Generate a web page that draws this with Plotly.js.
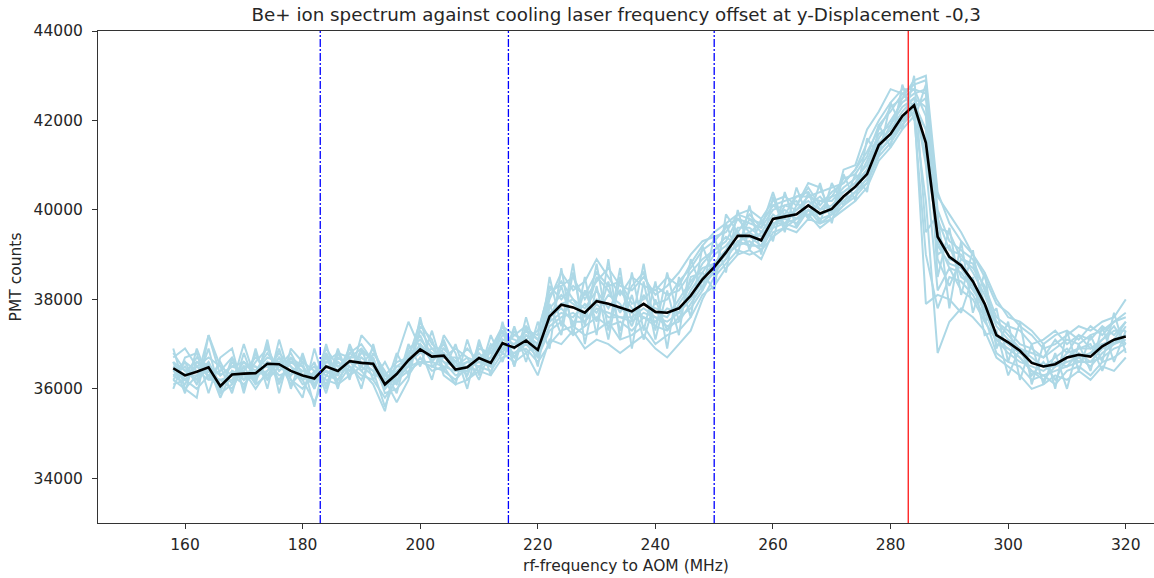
<!DOCTYPE html>
<html>
<head>
<meta charset="utf-8">
<script src="https://cdn.plot.ly/plotly-3.0.1.min.js"></script>
<style>html,body{margin:0;padding:0;background:#fff;}#chart{width:1154px;height:578px;}</style>
</head>
<body>
<div id="chart"></div>
<script>
// rf-frequency (MHz)
const freqs = [158,160,162,164,166,168,170,172,174,176,178,180,182,184,186,188,190,192,194,196,198,200,202,204,206,208,210,212,214,216,218,220,222,224,226,228,230,232,234,236,238,240,242,244,246,248,250,252,254,256,258,260,262,264,266,268,270,272,274,276,278,280,282,284,286,288,290,292,294,296,298,300,302,304,306,308,310,312,314,316,318,320];

// mean spectrum (black)
const meanCounts = [36460,36300,36380,36480,36060,36320,36340,36350,36560,36550,36400,36300,36230,36500,36400,36620,36580,36560,36100,36330,36640,36880,36720,36740,36430,36480,36690,36580,37020,36920,37080,36870,37620,37880,37820,37700,37960,37900,37820,37730,37900,37720,37700,37800,38080,38450,38720,39050,39420,39420,39320,39800,39850,39900,40100,39920,40020,40300,40520,40800,41450,41700,42100,42340,41500,39400,38950,38760,38400,37900,37200,37040,36850,36580,36500,36550,36700,36760,36720,36950,37100,37170];

// individual scans (light blue)
const scanA = [36700,36900,36500,36300,36400,36700,36200,36600,36900,36400,36700,36500,36000,36600,36800,36300,36500,36900,36300,36100,36800,37200,36600,36900,36600,36300,36900,36800,37300,36700,37200,37000,38100,38400,38000,37600,38500,38200,37700,38300,38600,37900,38000,38400,38700,39100,39300,39600,39800,39500,39700,40100,39900,40300,40400,40000,40300,40700,40800,41200,41900,42200,42600,42800,42900,40000,39300,39100,38900,38200,37500,37300,37000,36900,36700,36900,37100,37000,37200,37300,37500,37600];
const scanB = [36200,36000,36300,36600,35900,36100,36500,36100,36300,36700,36200,36000,36400,36200,36100,36500,36300,36200,35800,36200,36400,36600,36500,36400,36200,36500,36400,36300,36700,36800,36900,36600,37000,37300,37400,37200,37300,37500,37100,37200,37400,37000,37200,37300,37600,38100,38300,38700,39000,39100,38900,39500,39600,39500,39800,39700,39800,40000,40200,40500,41100,41400,41800,42100,39000,37800,38500,38400,38100,37600,36800,36600,36500,36200,36300,36100,36400,36500,36300,36600,36700,36900];
const scanC = [36600,36400,36200,37200,36300,36500,36400,36700,36500,36200,36600,36400,36300,36900,36500,36700,36900,36600,36200,36500,36700,37500,37000,36800,36500,36700,36600,36500,37100,37000,37300,37200,38300,38000,38300,38100,38600,38300,38400,37900,38000,38300,38100,38200,38600,38900,39100,39300,39800,39700,39600,40000,40100,40000,40300,40200,40200,40500,40700,41000,41600,42000,42400,42600,42700,39600,39500,38900,38700,38300,37600,37400,37300,37000,37100,37300,37000,37200,37100,37400,37200,37500];
const scanD = [36300,36100,36600,36400,36100,36200,36600,36300,36400,36800,36500,36100,36200,36400,36300,36800,36600,36400,35600,36300,36600,36800,36900,36600,36300,36400,36800,36500,37000,36700,37100,36800,37400,37600,37700,37500,37800,37700,37600,37500,37700,37600,37400,37500,37900,38300,38600,38900,39300,39400,39200,39700,39800,39700,40000,39800,39900,40200,40400,40700,41300,41600,42000,42400,41800,39200,38800,38700,38300,37800,37000,36900,36700,36400,36200,36500,36600,36700,36500,36800,37000,37100];
const scanE = [36500,36300,36700,36500,35800,36400,36200,36400,36700,36600,36300,36700,36100,36500,36600,36400,36700,36500,36000,36400,36500,37000,36600,37100,36400,36600,36500,36700,37200,37100,37000,36900,38000,38600,38200,38400,38900,38500,38100,38500,38300,38200,38500,38300,38800,39200,39500,39700,39900,40000,39800,40200,40300,40100,40500,40100,40400,40600,40900,41300,41800,42300,42500,42900,43000,40400,39700,39300,39000,38500,37900,37700,37400,37200,36900,37000,37200,37400,37300,37500,37600,38000];
const scanF = [36100,36200,36000,36300,36000,36600,36300,36200,36600,36300,36400,36200,35700,36300,36200,36600,36400,36700,35900,36000,36300,36700,36400,36500,36100,36200,36500,36400,36800,36600,36800,36300,37100,37000,37300,36900,37100,37000,36800,37000,37200,36900,36700,37000,37300,38000,38500,38800,39100,39000,39100,39400,39600,39800,39900,39600,39800,40100,40300,40600,41200,41500,41900,42200,40200,36800,37500,37800,37600,37300,36700,36500,36300,36000,36100,36300,36200,36400,36200,36500,36400,36700];
const scanG = [36400,36600,36400,36200,36200,36000,36500,36500,36200,36500,36800,36300,36500,36100,36700,36500,36200,36800,36400,35900,36900,37100,36800,36700,36700,36300,37000,36600,36900,37200,37400,37100,37700,37900,38000,37800,38200,37800,38200,37800,37600,37500,37800,37700,38200,38600,39000,39200,39500,39200,39500,39900,39700,40000,40200,40000,40100,40400,40600,40900,41500,41800,42200,42500,42300,39000,39200,38500,38300,37700,37200,37000,36800,36600,36500,36700,36900,36600,36800,37100,37300,37300];
const scanH = [36600,36200,36500,36700,36500,36300,36100,36400,36500,36600,36100,36400,36300,36700,36400,36900,36500,36300,36300,36600,36700,36900,36700,37000,36500,36600,36700,36900,37400,36900,37200,37000,37500,37700,37600,37900,37700,38100,37900,37400,38100,37700,37600,38000,38400,38700,38800,39100,39600,39600,39400,39800,40000,39800,40100,40300,40000,40300,40500,40900,41400,41900,42300,42500,41000,38200,38700,38200,38000,37500,37100,36800,36600,36500,36400,36600,36500,36800,36600,36900,37000,37400];
const scanI = [36300,36500,36100,36600,36100,36200,36400,36000,36400,36700,36500,36300,36100,36400,36200,36600,36600,36400,36100,36200,36500,36600,36600,36500,36400,36500,36600,36500,36900,36800,37000,36700,37300,37500,37200,37400,37600,37400,37500,37300,37600,37400,37300,37600,37800,38200,38700,39000,39200,39300,39100,39600,39700,39600,40000,39700,39900,40100,40400,40600,41300,41600,41900,42300,42500,39800,39100,39000,38600,38100,37400,37100,36900,36700,36500,36500,36800,36900,36900,37000,37100,37200];
const scanJ = [36500,36300,36300,36400,36000,36400,36300,36300,36600,36500,36400,36200,36300,36600,36500,36700,36700,36500,36200,36400,36600,37000,36700,36800,36400,36400,36700,36600,37100,37000,37100,36900,37800,38100,37900,37700,38000,37900,37800,37700,37900,37800,37700,37800,38100,38500,38800,39100,39400,39500,39300,39800,39900,39900,40100,39900,40000,40300,40500,40800,41400,41700,42100,42400,41200,39500,38900,38800,38400,37900,37200,37000,36800,36600,36500,36500,36700,36700,36800,37000,37000,37200];
const scanK = [36800,36400,36600,36500,36300,36500,36600,36400,36800,36400,36600,36500,36200,36800,36300,36800,37000,36600,36100,36500,36500,37300,36900,36900,36600,36900,36600,36700,37400,37200,37100,37300,38200,38300,38500,38000,38400,38700,38300,38200,38500,38100,38300,38600,39000,39300,39400,39500,39900,39800,39700,40100,40200,40300,40300,40400,40500,40600,40900,41500,42000,42400,42700,42700,42600,40300,39900,39500,39000,38600,38000,37600,37500,37300,37000,37200,37300,37100,37400,37200,37500,37700];
const scanL = [36400,36200,36500,36300,36200,36300,36500,36500,36300,36600,36300,36600,36400,36300,36600,36400,36800,36700,36000,36300,36800,36800,36800,36600,36500,36500,36700,36800,37000,36900,37300,37100,37600,37800,37500,37500,37900,37600,37600,37600,37800,37600,37500,37700,38000,38400,38600,38900,39300,39200,39200,39700,39700,39800,40000,39900,40000,40200,40400,40700,41300,41600,42000,42300,41800,39300,38700,38600,38200,37800,37100,36900,36700,36400,36300,36400,36500,36600,36600,36700,36900,37000];
const scanM = [36900,36000,35800,37200,36500,35900,36800,36100,37100,35900,36900,36600,35600,36800,36000,37000,36400,36100,35500,36700,37500,36900,36200,37200,36800,36000,37100,36300,37500,36500,37400,36500,37900,37200,38600,37400,38800,37300,38700,36900,38400,37100,38200,37200,38900,38200,39400,38600,40000,39100,39800,39300,40400,39600,40400,39700,40600,40100,40800,40400,41900,41400,42800,42000,42800,38500,39600,38100,39100,37500,37800,36600,37500,36100,37000,36000,37300,36400,37200,36600,37700,36800];
const scanN = [36000,36700,36800,35900,36700,36900,35900,36900,36000,37100,36200,35800,36900,36000,36900,36200,37200,36900,36200,35700,36200,37400,37100,36300,36100,37100,36300,37200,36600,37400,36600,37500,36900,38700,37200,38500,37200,38900,37100,38600,37300,38400,36900,38500,37600,39200,38500,39700,39000,40100,39000,40300,39500,40500,39800,40600,39700,40800,40200,41600,41200,42400,41800,43000,39500,39900,37800,39300,37700,38600,36900,37500,36200,37000,36100,36800,36000,37000,36400,37400,36600,37300];
const scanO = [36200,36600,36100,36900,35900,36700,36000,36800,36200,36900,36000,36800,36000,37000,36100,36300,36900,36200,36600,36100,37000,36500,37300,36400,37000,36200,36400,37000,36800,37300,36800,37000,37500,38300,37400,38200,37500,38400,37300,38100,37100,38000,37300,37900,38300,38800,39100,39400,39200,39800,39500,39600,40100,40200,39800,40200,40300,40400,40600,41100,41700,41900,42500,42700,42100,38900,38300,38900,38800,37900,37500,37200,36900,36800,36700,37100,36800,37200,36900,37100,37400,37000];
const scanP = [36600,35900,36900,36200,36600,36100,37000,36200,37000,36100,36700,36200,36600,35900,36800,36700,36000,37000,36000,36800,36300,37600,36500,36700,36900,36700,36200,36900,37300,36500,37600,36700,38500,37400,38800,37000,38300,37100,38500,37500,38800,37300,38600,37500,38500,38600,38200,39900,39500,39900,39600,40400,39600,40100,40600,40500,39900,40900,41000,41800,42200,42700,42600,42300,37900,38100,38000,37700,38500,37200,37300,36300,36900,36300,36600,36200,36700,36900,37000,36400,37100,37500];
const scans = [scanA,scanB,scanC,scanD,scanE,scanF,scanG,scanH,scanI,scanJ,scanK,scanL,scanM,scanN,scanO,scanP];

// reference frequencies
const blueMarkers = [183, 215, 250];
const redMarkers = [283];

const xTicks = [160,180,200,220,240,260,280,300,320];
const yTicks = [34000,36000,38000,40000,42000,44000];

const traces = scans.map(s => ({
  x: freqs, y: s, type: 'scatter', mode: 'lines',
  line: {color: '#add8e6', width: 2}, hoverinfo: 'skip', showlegend: false
}));
traces.push({
  x: freqs, y: meanCounts, type: 'scatter', mode: 'lines',
  line: {color: '#000000', width: 2.6}, showlegend: false
});

const shapes = [];
blueMarkers.forEach(f => shapes.push({type: 'line', xref: 'x', yref: 'paper', x0: f, x1: f, y0: 0, y1: 1,
  line: {color: '#0000ff', width: 1.3, dash: '8px,2px,2px,2px'}, layer: 'above'}));
redMarkers.forEach(f => shapes.push({type: 'line', xref: 'x', yref: 'paper', x0: f, x1: f, y0: 0, y1: 1,
  line: {color: '#ff0000', width: 1.2}, layer: 'above'}));

const font = {family: 'DejaVu Sans, sans-serif', size: 15.5, color: '#262626'};
const layout = {
  width: 1154, height: 578,
  margin: {l: 98, r: 0, t: 31, b: 55, pad: 0},
  paper_bgcolor: '#ffffff', plot_bgcolor: '#ffffff',
  font: font,
  showlegend: false,
  title: {text: 'Be+ ion spectrum against cooling laser frequency offset at y-Displacement -0,3',
    font: {family: 'DejaVu Sans, sans-serif', size: 18.3, color: '#262626'},
    xref: 'container', x: 0.534, xanchor: 'center', yref: 'container', y: 0.975, yanchor: 'middle'},
  xaxis: {range: [145.2, 324.8], tickvals: xTicks, ticktext: xTicks.map(String),
    ticks: 'outside', ticklen: 5, tickwidth: 1, tickcolor: '#333',
    showline: true, linecolor: '#333', linewidth: 1, mirror: true,
    showgrid: false, zeroline: false, ticklabelstandoff: 2,
    title: {text: 'rf-frequency to AOM (MHz)', font: font, standoff: 7}},
  yaxis: {range: [33000, 44000], tickvals: yTicks, ticktext: yTicks.map(String),
    ticks: 'outside', ticklen: 5, tickwidth: 1, tickcolor: '#333',
    showline: true, linecolor: '#333', linewidth: 1,
    showgrid: false, zeroline: false, ticklabelstandoff: 6,
    title: {text: 'PMT counts', font: font, standoff: 8}},
  shapes: shapes
};
Plotly.newPlot('chart', traces, layout, {displayModeBar: false, staticPlot: true});
</script>
</body>
</html>
